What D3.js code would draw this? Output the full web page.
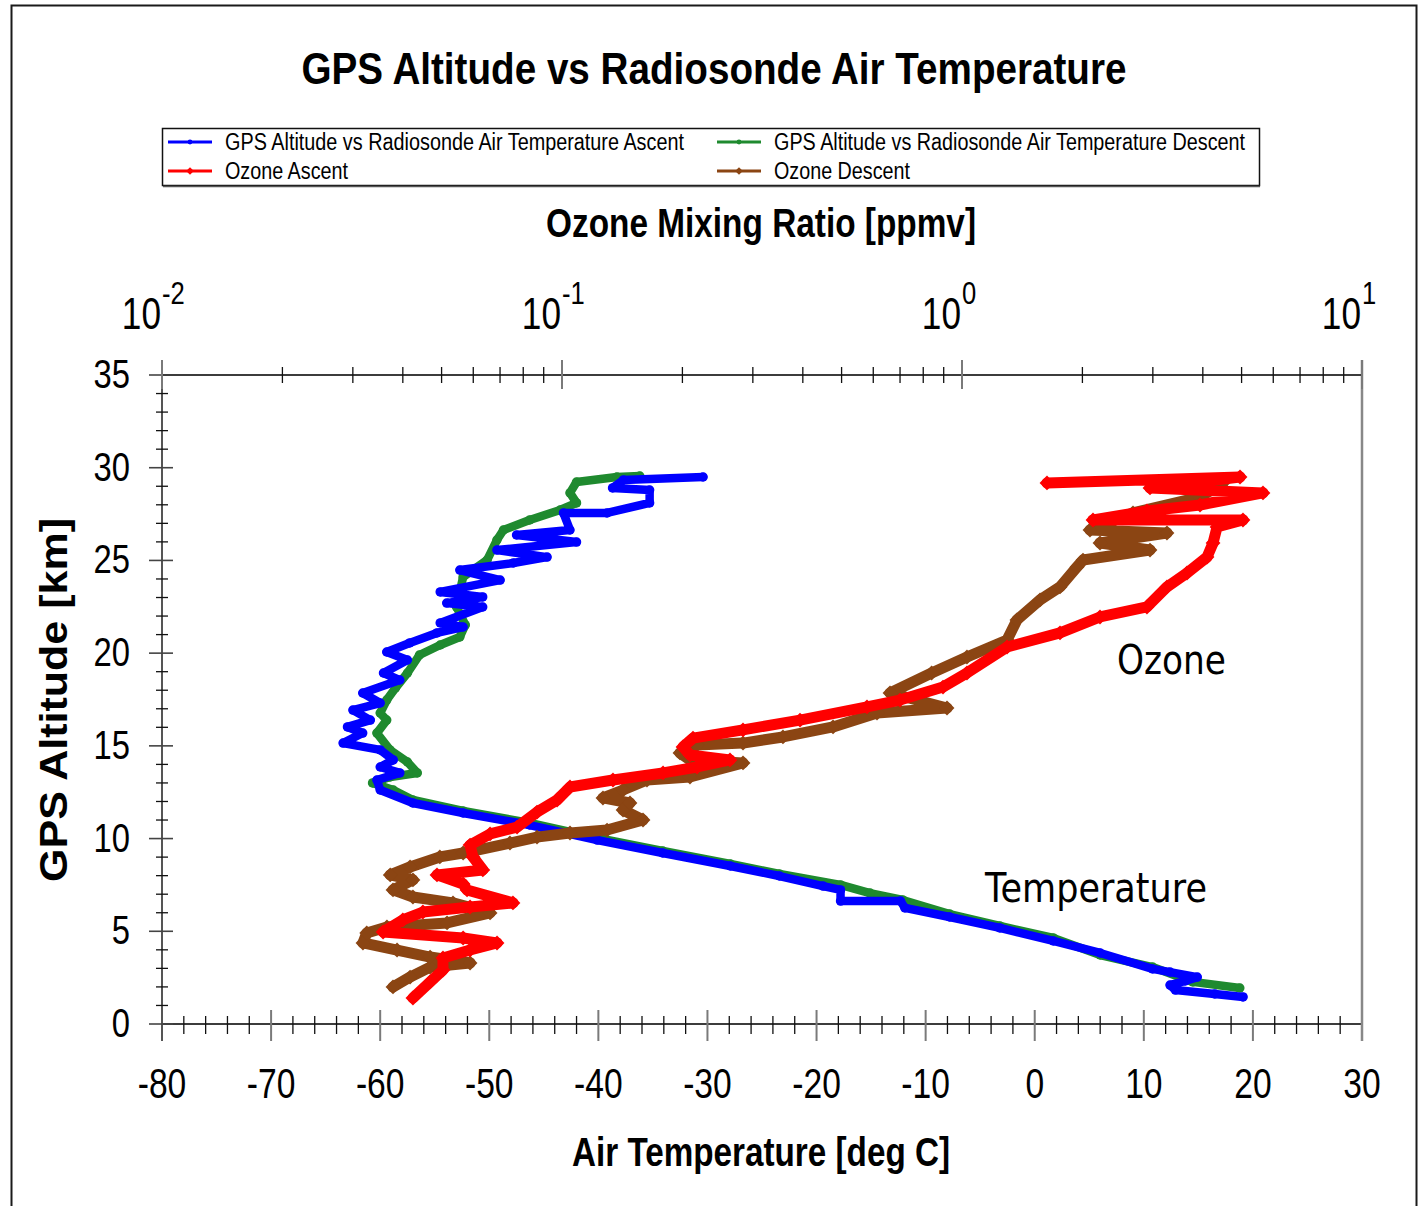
<!DOCTYPE html>
<html>
<head>
<meta charset="utf-8">
<script src="https://cdn.jsdelivr.net/npm/d3@7"></script>
<style>
  body { margin: 0; background: #fff; }
  svg { display: block; }
</style>
</head>
<body>
<svg id="chart" width="1420" height="1206"></svg>
<script>
// ---- Data: radiosonde profile, [value, GPS altitude km] ----
const tempAscent = [
  [19.1,1.46],[16.5,1.62],[12.9,1.83],[12.4,2.10],[13.8,2.32],[14.9,2.53],[12.4,2.80],[10.8,2.97],
  [6.0,3.83],[1.7,4.48],[-3.2,5.18],[-7.8,5.77],[-11.9,6.26],[-12.3,6.63],[-17.8,6.63],[-17.8,7.23],
  [-19.4,7.44],[-23.4,7.98],[-27.9,8.52],[-34.1,9.22],[-40.1,9.92],[-46.3,10.73],[-52.4,11.38],
  [-57.0,11.92],[-60.0,12.62],[-60.3,13.16],[-58.2,13.54],[-60.0,13.86],[-58.8,14.24],[-60.0,14.78],
  [-63.4,15.15],[-61.6,15.69],[-63.0,16.02],[-60.9,16.39],[-62.5,16.93],[-60.0,17.31],[-61.6,17.85],
  [-58.2,18.55],[-59.7,18.93],[-57.5,19.63],[-59.4,20.06],[-57.3,20.55],[-54.8,21.09],[-52.4,21.41],
  [-54.5,21.63],[-50.6,22.49],[-53.9,22.70],[-50.6,23.03],[-54.5,23.30],[-49.0,23.94],[-52.7,24.48],
  [-47.8,24.86],[-44.7,25.18],[-49.3,25.56],[-42.0,25.99],[-47.5,26.37],[-42.6,26.64],[-43.2,27.56],
  [-39.2,27.56],[-35.3,28.10],[-35.3,28.80],[-38.7,28.91],[-37.7,29.34],[-30.4,29.50]
];
const tempDescent = [
  [18.8,1.94],[14.5,2.27],[10.8,3.07],[6.0,3.72],[1.7,4.64],[-3.2,5.29],[-7.8,5.93],[-12.1,6.69],
  [-15.1,7.06],[-17.8,7.50],[-23.4,8.09],[-27.9,8.63],[-34.1,9.33],[-40.1,10.03],[-46.3,10.84],
  [-52.4,11.49],[-57.0,12.08],[-58.8,12.62],[-60.7,13.00],[-59.1,13.32],[-56.6,13.54],[-57.5,14.13],
  [-59.1,14.78],[-60.3,15.69],[-59.4,16.39],[-60.0,16.77],[-59.4,17.47],[-58.6,18.12],[-57.5,18.93],
  [-56.4,19.90],[-54.5,20.44],[-52.7,20.87],[-52.2,21.52],[-53.0,22.49],[-52.4,24.11],[-50.2,25.02],
  [-49.3,26.10],[-48.7,26.64],[-46.3,27.18],[-43.5,27.72],[-42.0,28.10],[-42.6,28.64],[-42.0,29.23],
  [-38.3,29.50],[-36.2,29.55]
];
const ozoneAscent = [
  [0.0424,1.40],[0.0468,2.27],[0.0504,2.91],[0.0504,3.56],[0.0589,3.99],[0.0688,4.37],[0.0566,4.64],
  [0.0357,4.96],[0.0400,5.61],[0.0449,6.04],[0.0589,6.31],[0.0754,6.53],[0.0579,7.23],[0.0566,7.55],
  [0.0487,8.04],[0.0634,8.31],[0.0599,9.01],[0.0589,9.65],[0.0661,10.25],[0.0772,10.62],[0.0866,11.43],
  [0.0972,12.08],[0.1047,12.78],[0.1341,13.16],[0.1789,13.54],[0.2176,13.86],[0.2630,14.24],
  [0.2089,14.51],[0.2007,14.94],[0.2126,15.42],[0.2835,15.86],[0.3936,16.39],[0.5788,17.10],
  [0.6998,17.47],[0.8964,18.17],[1.029,18.93],[1.296,20.33],[1.758,21.09],[2.213,21.95],[2.90,22.49],
  [3.254,23.57],[3.652,24.32],[4.098,25.18],[4.242,25.94],[4.341,26.80],[5.04,27.18],[2.126,27.18],
  [2.90,27.67],[3.936,27.99],[5.655,28.64],[2.951,28.91],[4.955,29.50],[1.631,29.18]
];
const ozoneDescent = [
  [0.0378,2.00],[0.0417,2.53],[0.0468,3.07],[0.0589,3.29],[0.0468,3.61],[0.0387,3.99],[0.0318,4.37],
  [0.0325,4.91],[0.0365,5.23],[0.0516,5.45],[0.0661,5.99],[0.0534,6.53],[0.0424,6.85],[0.0378,7.23],
  [0.0424,7.77],[0.0372,8.04],[0.0417,8.47],[0.0495,9.01],[0.0566,9.22],[0.0741,9.76],[0.0866,10.08],
  [0.1047,10.30],[0.1296,10.46],[0.1594,11.00],[0.1421,11.54],[0.1479,11.92],[0.1266,12.19],
  [0.1421,12.62],[0.1631,13.16],[0.2089,13.32],[0.2835,14.08],[0.2089,14.24],[0.1972,14.62],
  [0.2176,15.05],[0.2835,15.15],[0.3568,15.48],[0.4760,16.02],[0.6131,16.77],[0.9173,17.04],
  [0.6607,17.85],[0.8395,18.93],[1.029,19.79],[1.296,20.71],[1.372,21.79],[1.567,22.87],[1.758,23.57],
  [1.939,24.65],[2.007,25.02],[2.951,25.56],[2.213,25.94],[3.254,26.48],[2.089,26.64],[2.676,27.56],
  [3.936,28.42],[4.49,29.18]
];

// ---- Axis ticks and labels ----
const tempTicks = [-80,-70,-60,-50,-40,-30,-20,-10,0,10,20,30];
const altTicks = [0,5,10,15,20,25,30,35];
const ozoneDecades = [0.01,0.1,1,10];
const ozoneExponents = ["-2","-1","0","1"];

const titleText = "GPS Altitude vs Radiosonde Air Temperature";
const topAxisTitle = "Ozone Mixing Ratio [ppmv]";
const bottomAxisTitle = "Air Temperature [deg C]";
const leftAxisTitle = "GPS Altitude [km]";
const legendLabels = [
  "GPS Altitude vs Radiosonde Air Temperature Ascent",
  "GPS Altitude vs Radiosonde Air Temperature Descent",
  "Ozone Ascent",
  "Ozone Descent"
];

// ---- Layout ----
const plot = { left: 162, right: 1362, top: 375, bottom: 1024 };
const COLORS = { blue: "#0000ff", green: "#1f8a2f", red: "#ff0000", brown: "#8b4513" };
const NARROW = "'Liberation Sans', Arial, sans-serif";
const LABEL_FONT = "'DejaVu Sans', Tahoma, Verdana, sans-serif";

const svg = d3.select("#chart");

const x = d3.scaleLinear().domain([-80, 30]).range([plot.left, plot.right]);
const xTop = d3.scaleLog().domain([0.01, 10]).range([plot.left, plot.right]);
const y = d3.scaleLinear().domain([0, 35]).range([plot.bottom, plot.top]);

// outer frame
svg.append("rect")
  .attr("x", 11.5).attr("y", 5.5).attr("width", 1405).attr("height", 1215)
  .attr("fill", "none").attr("stroke", "#1a1a1a").attr("stroke-width", 2);

// title
svg.append("text")
  .attr("x", 714).attr("y", 84)
  .attr("text-anchor", "middle")
  .attr("font-family", NARROW).attr("font-weight", "bold").attr("font-size", 45)
  .attr("textLength", 825).attr("lengthAdjust", "spacingAndGlyphs")
  .text(titleText);

// ---- Axes ----
const axes = svg.append("g");

// bottom axis (temperature)
axes.append("line")
  .attr("x1", plot.left).attr("x2", plot.right).attr("y1", plot.bottom).attr("y2", plot.bottom)
  .attr("stroke", "#3c3c3c").attr("stroke-width", 2);
const tempMinor = d3.range(-80, 31, 2).filter(v => v % 10 !== 0);
axes.selectAll(".bminor").data(tempMinor).join("line")
  .attr("x1", d => x(d)).attr("x2", d => x(d))
  .attr("y1", plot.bottom - 8).attr("y2", plot.bottom + 10)
  .attr("stroke", "#111").attr("stroke-width", 1.3);
axes.selectAll(".bmajor").data(tempTicks).join("line")
  .attr("x1", d => x(d)).attr("x2", d => x(d))
  .attr("y1", plot.bottom - 14).attr("y2", plot.bottom + 17)
  .attr("stroke", "#7a7a7a").attr("stroke-width", 2);
axes.selectAll(".blabel").data(tempTicks).join("text")
  .attr("transform", d => `translate(${x(d)},1098) scale(0.8,1)`)
  .attr("text-anchor", "middle")
  .attr("font-family", NARROW).attr("font-size", 42)
  .text(d => d);

// left axis (altitude)
axes.append("line")
  .attr("x1", plot.left).attr("x2", plot.left).attr("y1", 360).attr("y2", 1041)
  .attr("stroke", "#555").attr("stroke-width", 2);
const altMinor = d3.range(0, 36, 1).filter(v => v % 5 !== 0);
axes.selectAll(".lminor").data(altMinor).join("line")
  .attr("x1", plot.left - 6).attr("x2", plot.left + 6)
  .attr("y1", d => y(d)).attr("y2", d => y(d))
  .attr("stroke", "#111").attr("stroke-width", 1.3);
axes.selectAll(".lmajor").data(altTicks).join("line")
  .attr("x1", plot.left - 13).attr("x2", plot.left + 11)
  .attr("y1", d => y(d)).attr("y2", d => y(d))
  .attr("stroke", "#444").attr("stroke-width", 1.6);
axes.selectAll(".llabel").data(altTicks).join("text")
  .attr("transform", d => `translate(130,${y(d) + 13}) scale(0.82,1)`)
  .attr("text-anchor", "end")
  .attr("font-family", NARROW).attr("font-size", 40)
  .text(d => d);

// right border
axes.append("line")
  .attr("x1", plot.right).attr("x2", plot.right).attr("y1", 360).attr("y2", 1041)
  .attr("stroke", "#888").attr("stroke-width", 2.5);

// top axis (ozone, log)
axes.append("line")
  .attr("x1", plot.left).attr("x2", plot.right).attr("y1", plot.top).attr("y2", plot.top)
  .attr("stroke", "#3c3c3c").attr("stroke-width", 2);
const ozoneMinor = [];
ozoneDecades.slice(0, 3).forEach(d => { for (let m = 2; m <= 9; m++) ozoneMinor.push(d * m); });
axes.selectAll(".tminor").data(ozoneMinor).join("line")
  .attr("x1", d => xTop(d)).attr("x2", d => xTop(d))
  .attr("y1", plot.top - 8).attr("y2", plot.top + 8)
  .attr("stroke", "#111").attr("stroke-width", 1.3);
axes.selectAll(".tmajor").data(ozoneDecades).join("line")
  .attr("x1", d => xTop(d)).attr("x2", d => xTop(d))
  .attr("y1", plot.top - 15).attr("y2", plot.top + 14)
  .attr("stroke", "#7a7a7a").attr("stroke-width", 2);
const topLabels = axes.selectAll(".tlabel").data(ozoneDecades).join("g")
  .attr("transform", d => `translate(${xTop(d)},0)`);
topLabels.append("text")
  .attr("transform", "translate(-1,329) scale(0.8,1)")
  .attr("text-anchor", "end")
  .attr("font-family", NARROW).attr("font-size", 44)
  .text("10");
topLabels.append("text")
  .attr("transform", "translate(0,304) scale(0.8,1)")
  .attr("text-anchor", "start")
  .attr("font-family", NARROW).attr("font-size", 32)
  .text((d, i) => ozoneExponents[i]);

// axis titles
svg.append("text")
  .attr("x", 761).attr("y", 237).attr("text-anchor", "middle")
  .attr("font-family", NARROW).attr("font-weight", "bold").attr("font-size", 40)
  .attr("textLength", 430).attr("lengthAdjust", "spacingAndGlyphs")
  .text(topAxisTitle);
svg.append("text")
  .attr("x", 761).attr("y", 1166).attr("text-anchor", "middle")
  .attr("font-family", NARROW).attr("font-weight", "bold").attr("font-size", 40)
  .attr("textLength", 378).attr("lengthAdjust", "spacingAndGlyphs")
  .text(bottomAxisTitle);
svg.append("text")
  .attr("transform", "translate(67,700) rotate(-90)")
  .attr("text-anchor", "middle")
  .attr("font-family", NARROW).attr("font-weight", "bold").attr("font-size", 38)
  .attr("textLength", 364).attr("lengthAdjust", "spacingAndGlyphs")
  .text(leftAxisTitle);

// ---- Series ----
const diamond = {
  draw(ctx, size) {
    const r = Math.sqrt(size) / 2;
    ctx.moveTo(0, -r); ctx.lineTo(r, 0); ctx.lineTo(0, r); ctx.lineTo(-r, 0); ctx.closePath();
  }
};
const series = [
  { key: "tempDescent", data: tempDescent, color: COLORS.green, scale: x, width: 8.5, marker: d3.symbolCircle, size: 70 },
  { key: "tempAscent",  data: tempAscent,  color: COLORS.blue,  scale: x, width: 8.5, marker: d3.symbolCircle, size: 70 },
  { key: "ozoneDescent", data: ozoneDescent, color: COLORS.brown, scale: xTop, width: 11, marker: diamond, size: 220 },
  { key: "ozoneAscent",  data: ozoneAscent,  color: COLORS.red,   scale: xTop, width: 11, marker: diamond, size: 220 }
];

const plotLayer = svg.append("g");
series.forEach(s => {
  const g = plotLayer.append("g").attr("class", s.key);
  const line = d3.line().x(d => s.scale(d[0])).y(d => y(d[1]));
  g.append("path")
    .attr("d", line(s.data))
    .attr("fill", "none").attr("stroke", s.color)
    .attr("stroke-width", s.width)
    .attr("stroke-linejoin", "round").attr("stroke-linecap", "round");
  g.selectAll("path.m").data(s.data).join("path")
    .attr("class", "m")
    .attr("transform", d => `translate(${s.scale(d[0])},${y(d[1])})`)
    .attr("d", d3.symbol().type(s.marker).size(s.size))
    .attr("fill", s.color);
});

// annotations
svg.append("text")
  .attr("x", 1117).attr("y", 674)
  .attr("font-family", LABEL_FONT).attr("font-size", 41)
  .attr("textLength", 109).attr("lengthAdjust", "spacingAndGlyphs")
  .text("Ozone");
svg.append("text")
  .attr("x", 985).attr("y", 902)
  .attr("font-family", LABEL_FONT).attr("font-size", 41)
  .attr("textLength", 222).attr("lengthAdjust", "spacingAndGlyphs")
  .text("Temperature");

// ---- Legend ----
const legend = svg.append("g");
legend.append("rect")
  .attr("x", 162.5).attr("y", 128.5).attr("width", 1097).attr("height", 57)
  .attr("fill", "#fff").attr("stroke", "#111").attr("stroke-width", 1.5);
legend.append("line")
  .attr("x1", 163).attr("x2", 1260).attr("y1", 186.5).attr("y2", 186.5)
  .attr("stroke", "#555").attr("stroke-width", 1.5);
const legendItems = [
  { label: legendLabels[0], color: COLORS.blue,  marker: d3.symbolCircle, size: 18, col: 0, row: 0, len: 459 },
  { label: legendLabels[1], color: COLORS.green, marker: d3.symbolCircle, size: 18, col: 1, row: 0, len: 471 },
  { label: legendLabels[2], color: COLORS.red,   marker: diamond, size: 60, col: 0, row: 1, len: 123 },
  { label: legendLabels[3], color: COLORS.brown, marker: diamond, size: 60, col: 1, row: 1, len: 136 }
];
const colX = [168, 717];
const rowY = [142, 171];
legendItems.forEach(it => {
  const lx = colX[it.col], ly = rowY[it.row];
  legend.append("line")
    .attr("x1", lx).attr("x2", lx + 44).attr("y1", ly).attr("y2", ly)
    .attr("stroke", it.color).attr("stroke-width", 3);
  legend.append("path")
    .attr("transform", `translate(${lx + 22},${ly})`)
    .attr("d", d3.symbol().type(it.marker).size(it.size))
    .attr("fill", it.color);
  legend.append("text")
    .attr("x", lx + 57).attr("y", ly + 8)
    .attr("font-family", NARROW).attr("font-size", 23)
    .attr("textLength", it.len).attr("lengthAdjust", "spacingAndGlyphs")
    .text(it.label);
});
</script>
</body>
</html>
